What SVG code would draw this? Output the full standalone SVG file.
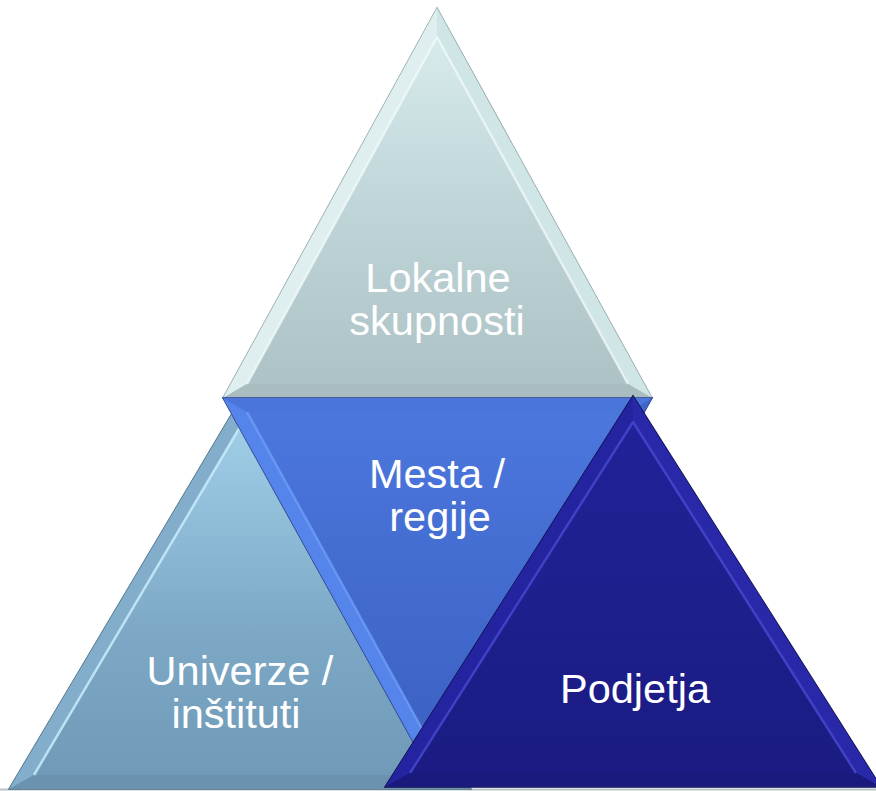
<svg xmlns="http://www.w3.org/2000/svg" width="876" height="791" viewBox="0 0 876 791">
<defs>
<linearGradient id="gTop" x1="0" y1="0" x2="0" y2="1">
<stop offset="0" stop-color="#dcefef"/><stop offset="0.5" stop-color="#bfd5d8"/><stop offset="1" stop-color="#abc1c4"/>
</linearGradient>
<linearGradient id="gMid" x1="0" y1="0" x2="0" y2="1">
<stop offset="0" stop-color="#4c78de"/><stop offset="1" stop-color="#3a5ec0"/>
</linearGradient>
<linearGradient id="gLeft" x1="0" y1="0" x2="0" y2="1">
<stop offset="0" stop-color="#a4d2ea"/><stop offset="0.6" stop-color="#7ca8c6"/><stop offset="1" stop-color="#6f99b6"/>
</linearGradient>
<linearGradient id="gRight" x1="0" y1="0" x2="0" y2="1">
<stop offset="0" stop-color="#22229a"/><stop offset="1" stop-color="#1b1b82"/>
</linearGradient>
<style>
.lbl{font-family:"Liberation Sans",Arial,sans-serif;font-size:41.5px;fill:#ffffff;text-anchor:middle}
.hl{fill:none;stroke-width:2.5;stroke-linejoin:round}
</style>
</defs>
<rect width="876" height="791" fill="#ffffff"/>
<line x1="0" y1="789.5" x2="876" y2="789.5" stroke="#b8c4c8" stroke-width="2"/>

<g id="node-lokalne">
<polygon points="437,8 223,398 652,398" fill="url(#gTop)" stroke="#8fa3a6" stroke-width="1.5"/>
<polygon points="437,8 223,398 247,384 437,37" fill="#dfefef"/>
<polygon points="437,8 652,398 628,384 437,37" fill="#cfe5e6"/>
<polygon points="223,398 652,398 628,384 247,384" fill="#a9bdc0"/>
<polyline class="hl" points="247,384 437,37 628,384" stroke="#f4fbfb" opacity="0.7"/>
<text class="lbl" x="438" y="292">Lokalne</text>
<text class="lbl" x="437" y="335">skupnosti</text>
</g>

<g id="node-univerze">
<polygon points="240,400 9,789 471,789" fill="url(#gLeft)" stroke="#4d6f85" stroke-width="1.5"/>
<polygon points="240,400 9,789 34,775 240,427" fill="#82aecb"/>
<polygon points="240,400 471,789 446,775 240,427" fill="#8cb8d4"/>
<polygon points="9,789 471,789 446,775 34,775" fill="#6b93af"/>
<polyline class="hl" points="34,775 240,427 446,775" stroke="#c8ecfc" opacity="0.85"/>
<text class="lbl" x="240" y="685">Univerze /</text>
<text class="lbl" x="236" y="728">inštituti</text>
</g>

<g id="node-mesta">
<polygon points="223,398 652,398 437,785" fill="url(#gMid)" stroke="#2a3f8a" stroke-width="1.5"/>
<polygon points="223,398 437,785 437,756 247,412" fill="#5585ea"/>
<polygon points="652,398 437,785 437,756 628,412" fill="#4066cc"/>
<polygon points="223,398 652,398 628,412 247,412" fill="#4a76dc"/>
<polyline class="hl" points="247,412 437,756" stroke="#6e9cf6" opacity="0.8"/>
<text class="lbl" x="437" y="488">Mesta /</text>
<text class="lbl" x="440" y="531">regije</text>
</g>

<g id="node-podjetja">
<polygon points="633,396 385,787 881,787" fill="url(#gRight)" stroke="#0e0e48" stroke-width="1.5"/>
<polygon points="633,396 385,787 410,773 633,422" fill="#2424a0"/>
<polygon points="633,396 881,787 856,773 633,422" fill="#2828a8"/>
<polygon points="385,787 881,787 856,773 410,773" fill="#1a1a7c"/>
<polyline class="hl" points="410,773 633,422 856,773" stroke="#4c4cd4" opacity="0.75"/>
<text class="lbl" x="635" y="703">Podjetja</text>
</g>

<g id="connectors"/>
</svg>
